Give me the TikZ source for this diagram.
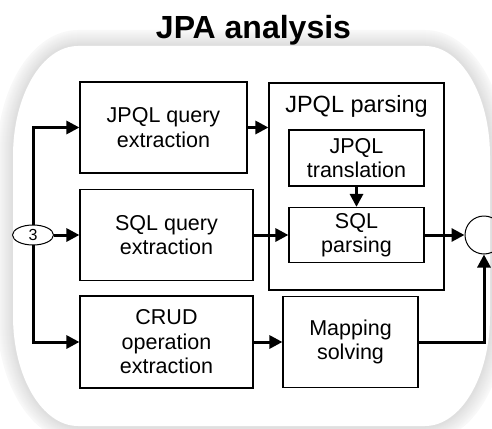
\documentclass[tikz,border=0pt]{standalone}
\usepackage{fontspec}
\setmainfont{Liberation Sans}
\usetikzlibrary{arrows.meta,shapes.geometric}
\newcommand\bgfill[2]{%
 \pgfmathsetmacro\bgL{13-#1}\pgfmathsetmacro\bgR{490+#1}%
 \pgfmathsetmacro\bgT{46-#1}\pgfmathsetmacro\bgB{426+#1}%
 \pgfmathsetmacro\bgRx{65+#1}\pgfmathsetmacro\bgRy{110+#1}%
 \pgfmathsetmacro\bgKx{0.448*\bgRx}\pgfmathsetmacro\bgKy{0.448*\bgRy}%
 \fill[#2] (\bgL,{\bgT+\bgRy}) .. controls (\bgL,{\bgT+\bgKy}) and ({\bgL+\bgKx},\bgT) .. ({\bgL+\bgRx},\bgT)
  -- ({\bgR-\bgRx},\bgT) .. controls ({\bgR-\bgKx},\bgT) and (\bgR,{\bgT+\bgKy}) .. (\bgR,{\bgT+\bgRy})
  -- (\bgR,{\bgB-\bgRy}) .. controls (\bgR,{\bgB-\bgKy}) and ({\bgR-\bgKx},\bgB) .. ({\bgR-\bgRx},\bgB)
  -- ({\bgL+\bgRx},\bgB) .. controls ({\bgL+\bgKx},\bgB) and (\bgL,{\bgB-\bgKy}) .. (\bgL,{\bgB-\bgRy}) -- cycle;}
\begin{document}
\begin{tikzpicture}[x=1pt,y=-1pt,
  blk/.style={draw, line width=1.2pt, align=center, inner sep=0pt,
    font=\fontsize{21.5}{24.5}\selectfont},
  arr/.style={line width=3pt, -{Triangle[length=13pt,width=13pt]}}]
\useasboundingbox (0,0) rectangle (492,428);
\begin{scope}
\clip (0,0) rectangle (492,428);
\foreach \d in {16,15,...,1}{%
  \pgfmathsetmacro\gc{3+(17-\d)*1.4}%
  \bgfill{\d}{gray!\gc}}
\bgfill{0}{white}
% title
\node[anchor=base, font=\fontsize{32}{34}\selectfont\bfseries] (title) at (253.5,39) {JPA analysis};
% boxes
\node[blk, minimum width=167pt, minimum height=91pt] (A) at (163.5,127.5) {JPQL query\\extraction};
\node[blk, minimum width=173pt, minimum height=91pt] (B) at (166.5,235) {SQL query\\extraction};
\node[blk, minimum width=173pt, minimum height=92pt] (C) at (166.5,342) {CRUD\\operation\\extraction};
\node[draw, line width=1.2pt, minimum width=175pt, minimum height=207pt, inner sep=0pt] (P) at (356.5,186.5) {};
\node[anchor=base, font=\fontsize{23.5}{25}\selectfont] (Pt) at (356.5,112) {JPQL parsing};
\node[blk, minimum width=135pt, minimum height=56pt] (T) at (356.5,158) {JPQL\\translation};
\node[blk, minimum width=135pt, minimum height=55pt] (S) at (356.5,235) {SQL\\parsing};
\node[blk, minimum width=135pt, minimum height=91pt] (M) at (350.5,342) {Mapping\\solving};
\node[draw, circle, line width=1pt, minimum size=38pt, inner sep=0pt] (E) at (484,235) {};
% connectors
\draw[arr] (33,235) |- (A.west);
\draw[arr] (33,235) |- (C.west);
\draw[arr] (A.east) -- (A.east -| P.west);
\draw[arr] (B.east) -- (S.west);
\draw[arr] (T.south) -- (S.north);
\draw[arr] (S.east) -- (E.west);
\draw[arr] (C.east) -- (M.west);
\draw[arr] (M.east) -| (E.south);
\node[draw, ellipse, fill=white, line width=1pt, minimum width=41pt, minimum height=20pt, inner sep=0pt, font=\fontsize{16}{18}\selectfont] (N) at (33,235) {3};
\draw[arr] (N.east) -- (B.west);
\end{scope}
\end{tikzpicture}
\end{document}
